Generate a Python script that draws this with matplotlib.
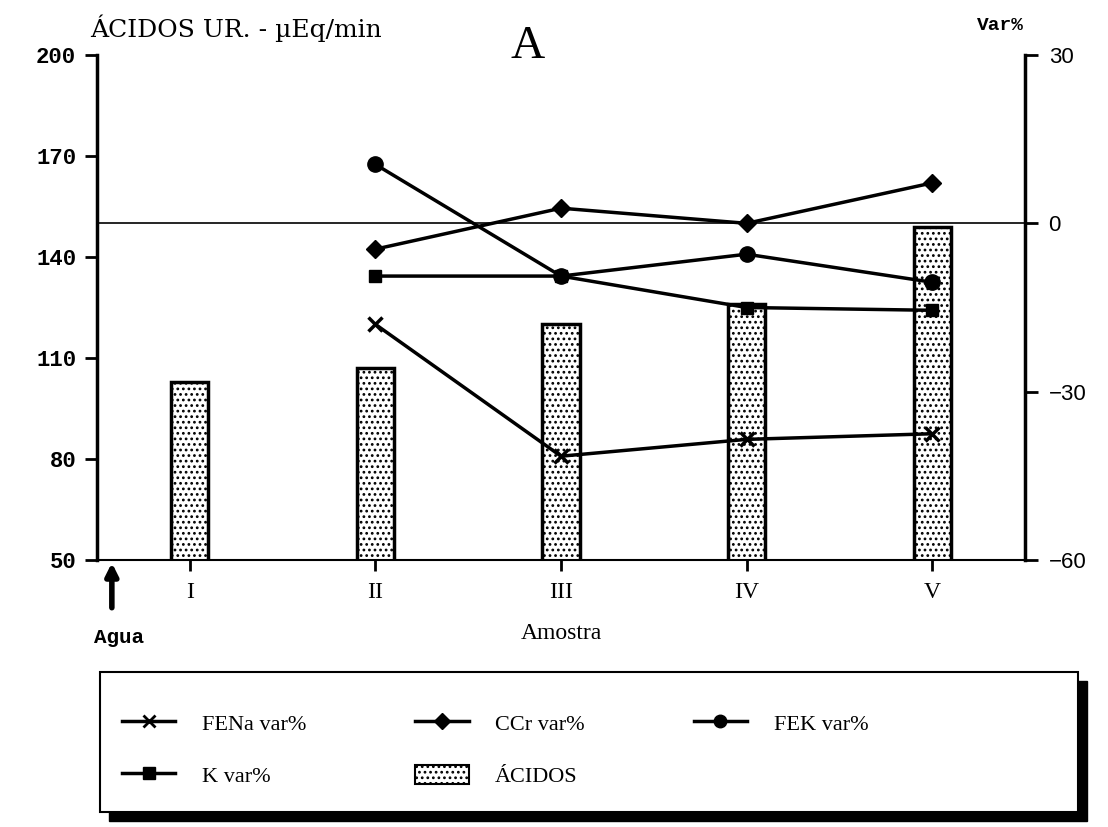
import matplotlib.pyplot as plt
from matplotlib.patches import Rectangle, Patch
from matplotlib.lines import Line2D

# amostras e valores
amostras = ['I', 'II', 'III', 'IV', 'V']
pos_amostra = [1, 2, 3, 4, 5]
acidos = [103, 107, 120, 126, 149]

# variacoes percentuais (a partir da amostra II)
pos_var = [2, 3, 4, 5]
fena_var = [-18, -41.5, -38.5, -37.5]
ccr_var = [-4.6, 2.7, 0, 7.2]
fek_var = [10.5, -9.4, -5.5, -10.5]
k_var = [-9.4, -9.4, -15, -15.5]

serif = 'Liberation Serif'
mono = 'Liberation Mono'

fig = plt.figure(figsize=(11.08, 8.27), dpi=100)
ax = fig.add_axes([97 / 1108, 1 - 560 / 827, 928 / 1108, 505 / 827])
ax2 = ax.twinx()

plt.rcParams['hatch.linewidth'] = 1.2
ax.bar(pos_amostra, acidos, width=0.2, color='white', edgecolor='black',
       linewidth=2.5, hatch='...', zorder=2)
ax.set_xlim(0.5, 5.5)
ax.set_ylim(50, 200)
ax.set_yticks([50, 80, 110, 140, 170, 200])
ax.set_xticks(pos_amostra)
ax.set_xticklabels(amostras, fontfamily=serif, fontsize=17)
for lab in ax.get_yticklabels():
    lab.set_fontfamily(mono)
    lab.set_fontweight('bold')
    lab.set_fontsize(16)
ax.tick_params(axis='y', direction='out', length=9, width=2, pad=6)
ax.tick_params(axis='x', direction='out', length=8, width=2, pad=8)
ax.spines['top'].set_visible(False)
ax.spines['left'].set_linewidth(2.5)
ax.spines['bottom'].set_linewidth(1.5)
ax.spines['right'].set_visible(False)

ax2.set_ylim(-60, 30)
ax2.set_yticks([-60, -30, 0, 30])
ax2.set_yticklabels(['\u221260', '\u221230', '0', '30'],
                    fontfamily='Liberation Sans', fontsize=16)
ax2.tick_params(axis='y', direction='out', length=9, width=2, pad=8)
for s in ['top', 'left', 'bottom']:
    ax2.spines[s].set_visible(False)
ax2.spines['right'].set_linewidth(2.5)
ax2.axhline(0, color='black', linewidth=1.2, zorder=1)

lw = 2.5
ax2.plot(pos_var, fena_var, color='black', lw=lw, marker='x', ms=10, mew=2.5, zorder=3)
ax2.plot(pos_var, ccr_var, color='black', lw=lw, marker='D', ms=9, zorder=3)
ax2.plot(pos_var, fek_var, color='black', lw=lw, marker='o', ms=11, zorder=3)
ax2.plot(pos_var, k_var, color='black', lw=lw, marker='s', ms=9, zorder=3)

# textos
fig.text(90 / 1108, 1 - 37 / 827, '\u00c1CIDOS UR. - \u00b5Eq/min',
         fontfamily='DejaVu Serif', fontsize=18, ha='left', va='baseline')
fig.text(528 / 1108, 1 - 58 / 827, 'A', fontfamily=serif, fontsize=34,
         ha='center', va='baseline')
fig.text(1000 / 1108, 1 - 30 / 827, 'Var%', fontfamily=mono, fontweight='bold',
         fontsize=14, ha='center', va='baseline')
ax.set_xlabel('Amostra', fontfamily=serif, fontsize=17, labelpad=14)
ax.annotate('', xy=(0.58, 50), xycoords='data', xytext=(0.58, 35),
            arrowprops=dict(arrowstyle='-|>', color='black', lw=4,
                            mutation_scale=18), annotation_clip=False)
ax.text(0.62, 27, 'Agua', fontfamily=mono, fontweight='bold', fontsize=15,
        ha='center', va='center', clip_on=False)

# caixa da legenda com sombra
bx, by = 100 / 1108, 1 - 812 / 827
bw, bh = 978 / 1108, 140 / 827
fig.patches.append(Rectangle((bx + 9 / 1108, by - 9 / 827), bw, bh,
                             transform=fig.transFigure, facecolor='black',
                             edgecolor='black', zorder=0))
fig.patches.append(Rectangle((bx, by), bw, bh, transform=fig.transFigure,
                             facecolor='white', edgecolor='black', lw=1.5, zorder=1))

handles = [
    Line2D([], [], color='black', lw=lw, marker='x', ms=8, mew=2),
    Line2D([], [], color='black', lw=lw, marker='s', ms=8),
    Line2D([], [], color='black', lw=lw, marker='D', ms=8),
    Patch(facecolor='white', edgecolor='black', hatch='...', lw=1.5),
    Line2D([], [], color='black', lw=lw, marker='o', ms=9),
]
labels = ['FENa var%', 'K var%', 'CCr var%', '\u00c1CIDOS', 'FEK var%']
leg = fig.legend(handles, labels, ncol=3, frameon=False, loc='upper left',
                 bbox_to_anchor=(102 / 1108, 1 - 692 / 827),
                 prop={'family': serif, 'size': 16}, handlelength=2.4,
                 handleheight=1.0, handletextpad=1.2, columnspacing=4.9,
                 labelspacing=1.35)
leg.set_zorder(2)

fig.savefig('out.png', dpi=100)
